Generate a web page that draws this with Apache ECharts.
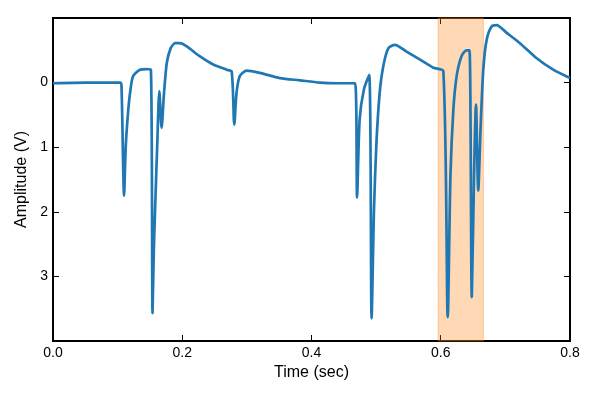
<!DOCTYPE html>
<html>
<head>
<meta charset="utf-8">
<script src="https://cdn.jsdelivr.net/npm/echarts@6/dist/echarts.min.js"></script>
<style>
  html, body { margin: 0; padding: 0; background: #fff; }
  #main { width: 600px; height: 400px; }
</style>
</head>
<body>
<div id="main"></div>
<script>
// 数据: 时间 (sec) 和 幅度 (V)
var times = [0, 0.05, 0.104, 0.106, 0.110, 0.1125, 0.1165, 0.120, 0.124, 0.1345, 0.145, 0.1515, 0.154,
  0.156, 0.158, 0.1614, 0.1645, 0.168, 0.1718, 0.176, 0.182, 0.1888, 0.1965, 0.207, 0.2275, 0.248, 0.2687,
  0.2765, 0.2805, 0.284, 0.289, 0.2996, 0.32, 0.351, 0.382, 0.413, 0.44, 0.4675, 0.4705, 0.4745,
  0.481, 0.4893, 0.493, 0.4967, 0.5005, 0.5055, 0.511, 0.5188, 0.529, 0.547, 0.568, 0.5885, 0.604,
  0.6108, 0.615, 0.6195, 0.6246, 0.632, 0.6398, 0.6445, 0.648, 0.6515, 0.6545, 0.658, 0.6618, 0.6658,
  0.671, 0.6787, 0.6865, 0.702, 0.7225, 0.748, 0.774, 0.8];
var amplitude = [0.01, 0.0, 0.0, 0.05, 1.75, 1.0, 0.42, 0.1, -0.1, -0.2, -0.21, -0.2, 3.57,
  2.6, 1.96, 0.93, 0.13, 0.70, 0.16, -0.30, -0.53, -0.61, -0.61, -0.56, -0.405, -0.28, -0.2,
  -0.17, 0.65, 0.16, -0.1, -0.185, -0.15, -0.07, -0.035, 0.0, 0.01, 0.01, 1.78, 0.57,
  0.11, -0.12, 3.65, 1.96, 0.93, 0.16, -0.25, -0.53, -0.585, -0.48, -0.355, -0.23, -0.175,
  3.63, 1.44, 0.42, -0.1, -0.405, -0.5, -0.5, 3.32, 1.44, 0.34, 1.67, 0.67, -0.2,
  -0.66, -0.87, -0.89, -0.77, -0.61, -0.38, -0.2, -0.07];
// 高亮区间
var highlight = [0.596, 0.666];
var xTicks = [0, 0.8, 0.2];   // min, max, interval
var yTicks = [-1, 4, 1];

var points = times.map(function (t, i) { return [t, amplitude[i]]; });
var font = 'Arial, "Liberation Sans", sans-serif';

var myChart = echarts.init(document.getElementById('main'));
var tickStyle = { show: true, inside: true, length: 6, lineStyle: { color: '#000', width: 1 } };
var noLine = { show: false, onZero: false };

var option = {
    animation: false,
    grid: {
        left: 53, right: 30, top: 18, bottom: 59,
        show: true, borderColor: '#000', borderWidth: 2, backgroundColor: 'transparent'
    },
    xAxis: [{
        type: 'value',
        min: xTicks[0], max: xTicks[1], interval: xTicks[2],
        name: 'Time (sec)', nameLocation: 'middle', nameGap: 22,
        nameTextStyle: { color: '#000', fontSize: 16, fontFamily: font },
        axisLine: noLine,
        axisTick: tickStyle,
        splitLine: { show: false },
        axisLabel: {
            color: '#000', fontSize: 14, fontFamily: font, margin: 5,
            formatter: function (v) { return v.toFixed(1); }
        }
    }, {
        type: 'value', position: 'top',
        min: xTicks[0], max: xTicks[1], interval: xTicks[2],
        axisLine: noLine,
        axisTick: tickStyle,
        splitLine: { show: false },
        axisLabel: { show: false }
    }],
    yAxis: [{
        type: 'value', inverse: true,
        min: yTicks[0], max: yTicks[1], interval: yTicks[2],
        name: 'Amplitude (V)', nameLocation: 'middle', nameGap: 18,
        nameTextStyle: { color: '#000', fontSize: 16, fontFamily: font },
        axisLine: noLine,
        axisTick: tickStyle,
        splitLine: { show: false },
        axisLabel: {
            color: '#000', fontSize: 14, fontFamily: font, margin: 5,
            formatter: function (v) { return (v < 0 || v > 3) ? '' : String(v); }
        }
    }, {
        type: 'value', inverse: true, position: 'right',
        min: yTicks[0], max: yTicks[1], interval: yTicks[2],
        axisLine: noLine,
        axisTick: tickStyle,
        splitLine: { show: false },
        axisLabel: { show: false }
    }],
    series: [{
        type: 'line',
        data: points,
        showSymbol: false,
        smooth: 0.25,
        lineStyle: { color: '#1f77b4', width: 2.7 },
        markArea: {
            silent: true,
            itemStyle: { color: 'rgba(255,127,14,0.3)', borderColor: 'rgba(255,127,14,0.35)', borderWidth: 1 },
            data: [[{ xAxis: highlight[0] }, { xAxis: highlight[1] }]]
        }
    }]
};

myChart.setOption(option);
</script>
</body>
</html>
